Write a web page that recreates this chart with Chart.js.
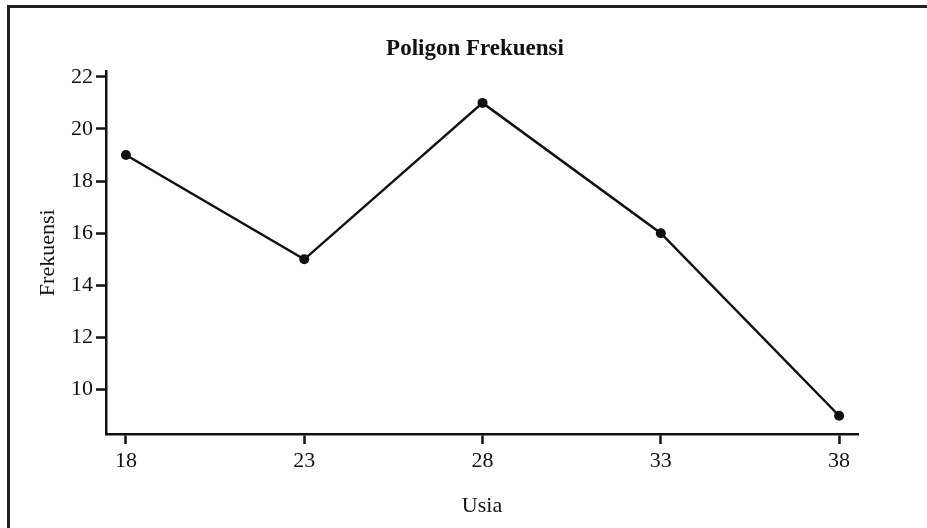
<!DOCTYPE html>
<html>
<head>
<meta charset="utf-8">
<script src="https://cdn.jsdelivr.net/npm/chart.js@4.4.1/dist/chart.umd.min.js"></script>
<style>
  body { margin: 0; background: #fff; }
  #wrap { position: relative; width: 927px; height: 528px; }
  #frame {
    position: absolute; left: 7px; top: 5px; right: 0; bottom: 0;
    border-top: 3px solid #222; border-left: 3px solid #222;
    pointer-events: none;
  }
</style>
</head>
<body>
<div id="wrap">
  <canvas id="chart" width="927" height="528"></canvas>
  <div id="frame"></div>
</div>
<script>
// data
const usia = [18, 23, 28, 33, 38];
const frekuensi = [19, 15, 21, 16, 9];
const xTicks = [18, 23, 28, 33, 38];
const yTicks = [10, 12, 14, 16, 18, 20, 22];

const INK = '#111';
const SERIF = "'Liberation Serif', 'Times New Roman', serif";

const ctx = document.getElementById('chart').getContext('2d');

new Chart(ctx, {
  type: 'line',
  data: {
    datasets: [{
      label: 'Frekuensi',
      data: usia.map((u, i) => ({ x: u, y: frekuensi[i] })),
      borderColor: INK,
      backgroundColor: INK,
      borderWidth: 2.5,
      pointRadius: 5,
      pointBackgroundColor: INK,
      pointBorderWidth: 0,
      tension: 0,
      fill: false,
    }]
  },
  options: {
    responsive: false,
    animation: false,
    layout: { padding: { left: 23, right: 0, top: 0, bottom: 0 } },
    plugins: {
      legend: { display: false },
      tooltip: { enabled: false },
      title: {
        display: true,
        text: 'Poligon Frekuensi',
        color: INK,
        font: { family: SERIF, size: 23, weight: 'bold', lineHeight: 1.2 },
        padding: { top: 35, bottom: 9 },
      },
    },
    scales: {
      x: {
        type: 'linear',
        min: 17.44, max: 38.53,
        afterBuildTicks: s => { s.ticks = xTicks.map(v => ({ value: v })); },
        afterFit: s => { s.height = 94; },
        grid: { drawOnChartArea: false, drawTicks: true, tickLength: 10, tickWidth: 2.5, tickColor: INK },
        border: { display: true, color: INK, width: 2.5 },
        ticks: { color: INK, padding: 4, font: { family: SERIF, size: 22 } },
        title: {
          display: true, text: 'Usia', color: INK,
          font: { family: SERIF, size: 22, lineHeight: 1.2 },
          padding: { top: 0, bottom: 9 },
        },
      },
      y: {
        type: 'linear',
        min: 8.3, max: 22.2,
        afterBuildTicks: s => { s.ticks = yTicks.map(v => ({ value: v })); },
        afterFit: s => { s.width = 83; },
        grid: { drawOnChartArea: false, drawTicks: true, tickLength: 10, tickWidth: 2.5, tickColor: INK },
        border: { display: true, color: INK, width: 2.5 },
        ticks: { color: INK, padding: 3, font: { family: SERIF, size: 22 } },
        title: {
          display: true, text: 'Frekuensi', color: INK,
          font: { family: SERIF, size: 22, lineHeight: 1.2 },
          padding: { top: 12, bottom: 0 },
        },
      },
      // empty right-hand axis, only reserves the white margin right of the plot
      spacer: {
        type: 'linear',
        position: 'right',
        display: true,
        grid: { display: false },
        border: { display: false },
        ticks: { display: false },
        afterFit: s => { s.width = 69; },
      },
    },
  },
});
</script>
</body>
</html>
